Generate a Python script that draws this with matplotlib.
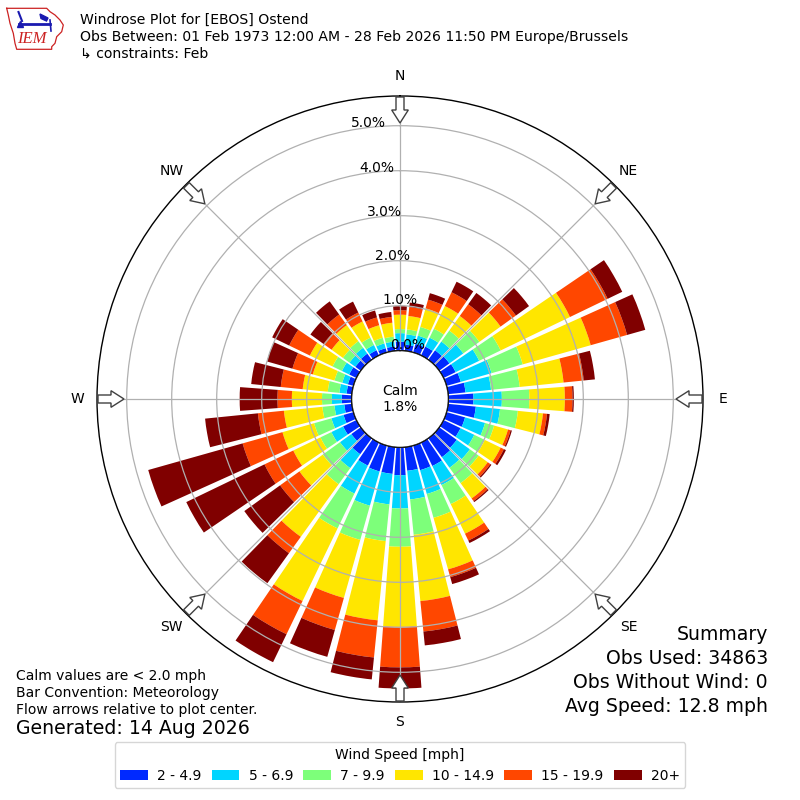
import numpy as np
import matplotlib
matplotlib.use("Agg")
import matplotlib.pyplot as plt
from matplotlib.patches import Patch, Circle, Polygon

# ---------------- data (percent of observations) ----------------
directions = list(range(0, 360, 10))
speed_labels = ["2 - 4.9", "5 - 6.9", "7 - 9.9", "10 - 14.9", "15 - 19.9", "20+"]

spd_2_5 = [0.20, 0.14, 0.20, 0.22, 0.26, 0.28, 0.30, 0.33, 0.39, 0.56,
           0.62, 0.43, 0.42, 0.48, 0.52, 0.58, 0.57, 0.53, 0.62, 0.60,
           0.60, 0.57, 0.44, 0.26, 0.33, 0.23, 0.17, 0.22, 0.12, 0.13,
           0.18, 0.15, 0.17, 0.13, 0.10, 0.10]
spd_5_7 = [0.19, 0.23, 0.19, 0.22, 0.24, 0.38, 0.58, 0.71, 0.57, 0.63,
           0.54, 0.46, 0.34, 0.36, 0.29, 0.47, 0.55, 0.64, 0.74, 0.68,
           0.79, 0.69, 0.38, 0.31, 0.29, 0.28, 0.22, 0.22, 0.16, 0.13,
           0.18, 0.16, 0.16, 0.13, 0.11, 0.11]
spd_7_10 = [0.09, 0.11, 0.20, 0.22, 0.30, 0.44, 0.53, 0.72, 0.64, 0.61,
            0.40, 0.21, 0.26, 0.24, 0.42, 0.47, 0.55, 0.79, 0.85, 0.82,
            0.79, 0.86, 0.44, 0.47, 0.27, 0.40, 0.27, 0.22, 0.26, 0.18,
            0.23, 0.18, 0.18, 0.18, 0.13, 0.11]
spd_10_15 = [0.32, 0.30, 0.43, 0.56, 0.40, 0.58, 1.71, 1.57, 0.98, 0.79,
             0.56, 0.32, 0.39, 0.25, 0.42, 0.73, 1.19, 1.48, 1.78, 1.77,
             1.34, 1.79, 1.44, 0.64, 0.67, 0.73, 0.86, 0.67, 0.56, 0.50,
             0.56, 0.31, 0.44, 0.40, 0.29, 0.31]
spd_15_20 = [0.10, 0.20, 0.20, 0.34, 0.32, 0.42, 0.93, 0.84, 0.45, 0.17,
             0.09, 0.06, 0.08, 0.07, 0.07, 0.17, 0.18, 0.68, 0.90, 0.83,
             0.74, 0.82, 0.45, 0.53, 0.71, 0.92, 0.58, 0.32, 0.49, 0.47,
             0.51, 0.22, 0.29, 0.22, 0.18, 0.13]
spd_20p = [0.09, 0.10, 0.15, 0.26, 0.31, 0.36, 0.36, 0.42, 0.25, 0.03,
           0.06, 0.03, 0.05, 0.03, 0.03, 0.06, 0.16, 0.31, 0.47, 0.49,
           0.62, 0.69, 0.82, 0.98, 1.93, 2.18, 1.18, 0.84, 0.66, 0.59,
           0.42, 0.36, 0.36, 0.27, 0.16, 0.11]
series = [spd_2_5, spd_5_7, spd_7_10, spd_10_15, spd_15_20, spd_20p]

calm_pct = 1.8
ring_values = [0, 1, 2, 3, 4, 5]
compass_angles = [0, 45, 90, 135, 180, 225, 270, 315]
compass_labels = ["N", "NE", "E", "SE", "S", "SW", "W", "NW"]

title_lines = ["Windrose Plot for [EBOS] Ostend",
               "Obs Between: 01 Feb 1973 12:00 AM - 28 Feb 2026 11:50 PM Europe/Brussels",
               "\u21b3 constraints: Feb"]
summary_lines = ["Summary", "Obs Used: 34863", "Obs Without Wind: 0", "Avg Speed: 12.8 mph"]
notes_lines = ["Calm values are < 2.0 mph", "Bar Convention: Meteorology",
               "Flow arrows relative to plot center."]
generated = "Generated: 14 Aug 2026"

# ---------------- figure ----------------
fig = plt.figure(figsize=(8, 8), dpi=100)
ax = fig.add_axes([97 / 800, 98 / 800, 606 / 800, 606 / 800], projection="polar")
ax.set_theta_zero_location("N")
ax.set_theta_direction(-1)
rorigin = -48.3 / 45.0
rmax = 5.66
ax.set_ylim(0, rmax)
ax.set_rorigin(rorigin)

colors = plt.get_cmap("jet")(np.linspace(0, 1, 7)[1:])
theta = np.deg2rad(directions)
width = np.deg2rad(8.5)
base = np.zeros(len(directions))
for vals, col in zip(series, colors):
    v = np.array(vals)
    ax.bar(theta, v, bottom=base, width=width, color=col, linewidth=0, zorder=1)
    base = base + v

ax.set_yticks(ring_values)
ax.set_yticklabels([])
ax.set_xticks(np.deg2rad(compass_angles))
ax.set_xticklabels([])
ax.grid(True, color="#b0b0b0", linewidth=0.9)
ax.spines["polar"].set_color("black")
ax.spines["polar"].set_linewidth(1.0)
ax.tick_params(axis="both", length=0)

# calm circle
calm_rad = 48.3 / 606.0
ax.add_artist(Circle((0.5, 0.5), calm_rad, transform=ax.transAxes, facecolor="white",
                     edgecolor="black", linewidth=1.0, zorder=3))
ax.text(0.5, 0.5, "Calm\n%.1f%%" % calm_pct, transform=ax.transAxes, ha="center",
        va="center", fontsize=10, zorder=4)

# ring labels
for rv in ring_values:
    ax.text(np.deg2rad(350), rv + 0.15, "%.1f%%" % rv, ha="left", va="center",
            fontsize=10, zorder=5)

# compass labels
r_lab = 323.0 / 45.0 + rorigin
for a, lab in zip(compass_angles, compass_labels):
    ax.text(np.deg2rad(a), r_lab, lab, ha="center", va="center", fontsize=10)

# flow arrows (pointing toward centre)
def arrow_poly(a_deg):
    a = np.deg2rad(a_deg)
    u = np.array([np.sin(a), np.cos(a)])
    p = np.array([np.cos(a), -np.sin(a)])
    prof = [(302, -4), (289, -4), (289, -8.3), (276, 0), (289, 8.3), (289, 4), (302, 4)]
    pts = [0.5 + (rho * u + w * p) / 606.0 for rho, w in prof]
    return np.array(pts)

for a in compass_angles:
    ax.add_artist(Polygon(arrow_poly(a), closed=True, transform=ax.transAxes,
                          facecolor="white", edgecolor="#404040", linewidth=1.0,
                          zorder=6, clip_on=False))

# ---------------- texts ----------------
for i, line in enumerate(title_lines):
    fig.text(80 / 800, 1 - (20 + 17 * i) / 800, line, ha="left", va="center", fontsize=10.1,
             family=["DejaVu Sans"])

for i, line in enumerate(summary_lines):
    fig.text(768 / 800, 1 - (635 + 24 * i) / 800, line, ha="right", va="center", fontsize=13.6)

for i, line in enumerate(notes_lines):
    fig.text(16 / 800, 1 - (676 + 17 * i) / 800, line, ha="left", va="center", fontsize=10)
fig.text(16 / 800, 1 - 729 / 800, generated, ha="left", va="center", fontsize=13.6)

# legend
handles = [Patch(facecolor=c, edgecolor="none") for c in colors]
fig.legend(handles, speed_labels, loc="lower center", bbox_to_anchor=(0.5, 0.006),
           ncol=6, title="Wind Speed [mph]", fontsize=10, title_fontsize=10,
           handletextpad=0.65, columnspacing=0.75, frameon=True)

# ---------------- logo ----------------
lax = fig.add_axes([0, 1 - 54 / 800, 72 / 800, 54 / 800])
lax.set_xlim(0, 72)
lax.set_ylim(54, 0)
lax.axis("off")
iowa_x = [6.7, 46.7, 50, 55, 60, 63.3, 61.7, 56.7, 55, 51.7, 51.7, 16.7, 15, 13.3, 10, 8.3, 6.7]
iowa_y = [8.3, 8.3, 11.7, 15, 20, 25, 31.7, 36.7, 43.3, 46.7, 49.3, 49.3, 43.3, 33.3, 23.3, 15, 8.3]
lax.plot(iowa_x, iowa_y, color="#cc2222", linewidth=0.9)
lax.text(17, 39, "IEM", color="#cc2222", fontsize=12, style="italic",
         family=["Liberation Serif", "DejaVu Serif"], ha="left", va="center")
lax.plot([19, 50], [23.5, 23.5], color="#1a1ab0", linewidth=2)
lax.plot([18.5, 22], [12, 21], color="#1a1ab0", linewidth=1.5)
lax.plot([20], [24], marker="^", color="#1a1ab0", markersize=4)
lax.add_patch(Polygon([[40, 14], [48, 18], [46.5, 21], [41, 18.5]], closed=True,
                      color="#1a1ab0"))
lax.plot([50, 51], [20, 31], color="#1a1ab0", linewidth=1.2)

fig.savefig("out.png", dpi=100, facecolor="white")
